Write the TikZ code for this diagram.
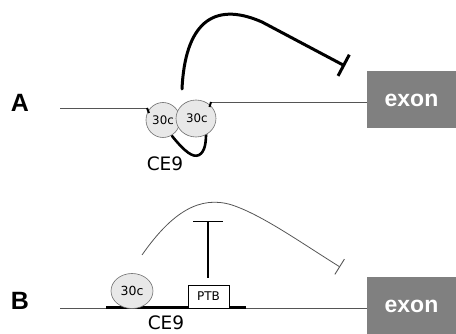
\documentclass[tikz,border=0pt]{standalone}
\usepackage{fontspec}
\setmainfont{DejaVu Sans}
\newfontfamily\labelfont{Liberation Sans}
\usetikzlibrary{shapes.geometric,arrows.meta}

\definecolor{exongray}{HTML}{808080}
\definecolor{factorfill}{HTML}{E8E8E8}
\definecolor{factorline}{HTML}{6E6E6E}
\definecolor{rnaline}{HTML}{555555}

\tikzset{
  panellabel/.style={font=\labelfont\bfseries\fontsize{25}{25}\selectfont, inner sep=0pt},
  exonbox/.style={fill=exongray, draw=none, minimum width=89pt, minimum height=57pt, inner sep=0pt,
    text=white, font=\labelfont\bfseries\fontsize{23}{23}\selectfont},
  factor/.style={ellipse, fill=factorfill, draw=factorline, line width=0.6pt, inner sep=0pt,
    font=\fontsize{11.8}{11.8}\selectfont},
  ptbbox/.style={rectangle, fill=white, draw=black, line width=0.7pt, minimum width=41pt,
    minimum height=23pt, inner sep=0pt, font=\fontsize{12}{12}\selectfont},
  rna/.style={draw=rnaline, line width=0.8pt},
  elementtag/.style={font=\fontsize{18.5}{18.5}\selectfont, inner sep=0pt},
  thickarc/.style={line width=3pt, line cap=round},
}

\begin{document}
\begin{tikzpicture}[x=1pt, y=-1pt]
\useasboundingbox (0,0) rectangle (456,334);

% ---------- panel A ----------
\node[panellabel] (labA) at (20,103) {A};
\node[exonbox] (exonA) at (411.5,100) {exon};

\coordinate (a0) at (60,108);
\coordinate (a1) at (147,108);
\coordinate (a2) at (211,102);
\draw[rna] (a0) -- (a1);
\draw[rna] (a2) -- (exonA.west |- a2);

% loop of the element pulled under the two bound factors
\coordinate (l1) at (172,136);
\coordinate (l2) at (206,134);
\draw[line width=2.6pt, line cap=round] (l1) .. controls (185,152) and (193,158) .. (199,155)
  .. controls (205,152) and (206,142) .. (l2);

\node[factor, minimum width=34pt, minimum height=35pt] (c30a) at (163,120) {30c};
\node[factor, minimum width=40pt, minimum height=37pt] (c30b) at (196,118.5) {\,30c};

% small hooks where the RNA enters the factors
\draw[line width=2pt] (a1) -- (149,113);
\draw[line width=2pt] (a2) -- (209.5,107);

\node[elementtag] (ce9a) at (165,164) {CE9};

% strong repression of the exon
\coordinate (ra0) at (182,89);
\coordinate (ra1) at (345,66);
\draw[thickarc, -{Bar[width=24pt, line width=3pt]}]
  (ra0) .. controls (185,25) and (212,0) .. (262,22) -- (ra1);

% ---------- panel B ----------
\node[panellabel] (labB) at (20,301) {B};
\node[exonbox] (exonB) at (411.5,306) {exon};

\coordinate (b0) at (60,308);
\draw[rna] (b0) -- (exonB.west |- b0);

\coordinate (e0) at (106,308);
\coordinate (e1) at (246,308);
\draw[line width=3pt] (e0) -- (e1);

\node[factor, minimum width=42pt, minimum height=35pt, font=\fontsize{12.5}{12.5}\selectfont]
  (c30c) at (132,291) {30c};
\node[ptbbox] (ptb) at (208.5,296.5) {PTB};

\node[elementtag] (ce9b) at (166,323) {CE9};

% PTB blocks the factor's action
\coordinate (pt) at (208,221);
\draw[line width=1.3pt, -{Bar[width=30pt, line width=1.3pt]}] (208,278) -- (pt);

% weakened repression of the exon
\coordinate (rb0) at (142,255);
\coordinate (rb1) at (340,267);
\draw[draw=rnaline, line width=0.8pt, -{Bar[width=18pt, line width=0.9pt]}]
  (rb0) .. controls (172,212) and (200,195) .. (232,205)
  .. controls (262,215) and (300,242) .. (rb1);

\end{tikzpicture}
\end{document}
